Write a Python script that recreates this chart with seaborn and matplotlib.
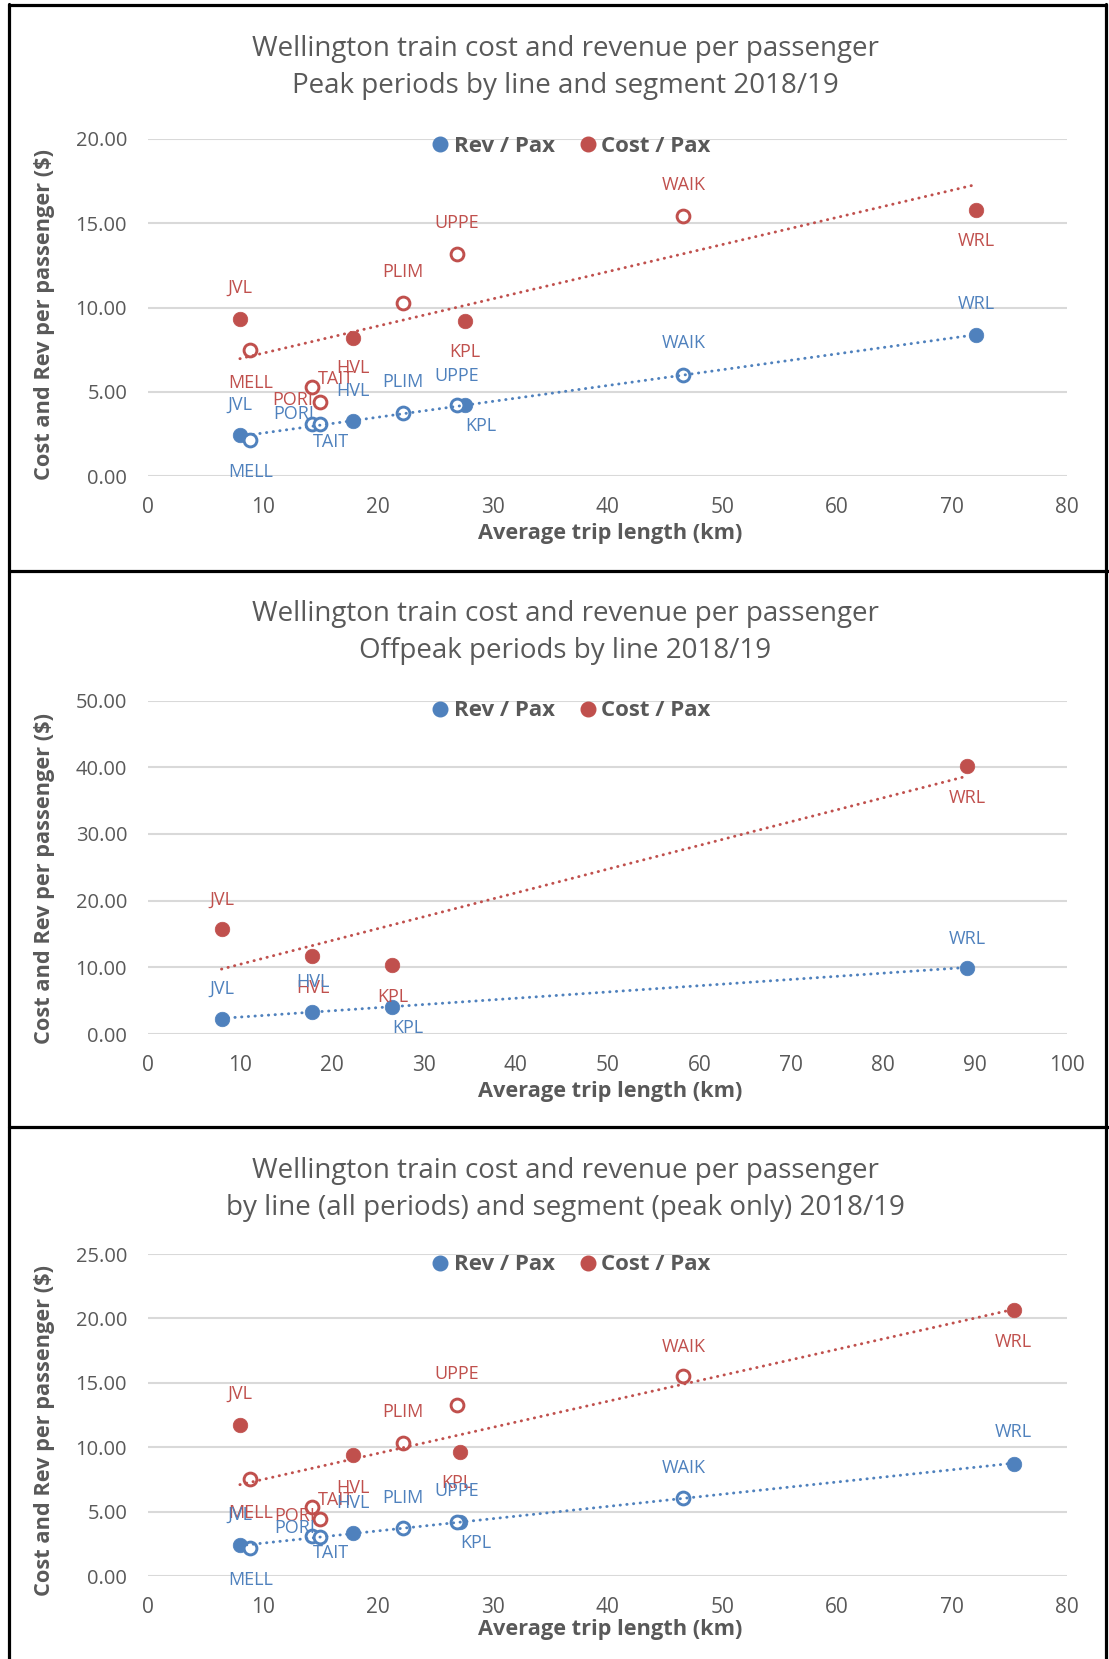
import numpy as np
import pandas as pd
import matplotlib
matplotlib.use("Agg")
import matplotlib.pyplot as plt
from matplotlib.lines import Line2D
from matplotlib.ticker import FormatStrFormatter, MultipleLocator
import seaborn as sns

# ---------------- data ----------------
# Panel 1: peak periods by line and segment
p1_line_names = ["JVL", "HVL", "KPL", "WRL"]
p1_line_km = [8.0, 17.85, 27.6, 72.1]
p1_line_rev = [2.43, 3.28, 4.19, 8.34]
p1_line_cost = [9.31, 8.18, 9.17, 15.79]
p1_seg_names = ["MELL", "PORI", "TAIT", "PLIM", "UPPE", "WAIK"]
p1_seg_km = [8.9, 14.3, 15.0, 22.2, 26.9, 46.6]
p1_seg_rev = [2.15, 3.06, 3.06, 3.73, 4.23, 6.00]
p1_seg_cost = [7.49, 5.31, 4.40, 10.29, 13.20, 15.43]

# Panel 2: offpeak periods by line
p2_line_names = ["JVL", "HVL", "KPL", "WRL"]
p2_line_km = [8.0, 17.8, 26.5, 89.1]
p2_line_rev = [2.31, 3.30, 4.11, 9.97]
p2_line_cost = [15.67, 11.71, 10.36, 40.20]

# Panel 3: by line (all periods) and segment (peak only)
p3_line_names = ["JVL", "HVL", "KPL", "WRL"]
p3_line_km = [8.0, 17.87, 27.15, 75.35]
p3_line_rev = [2.39, 3.32, 4.18, 8.70]
p3_line_cost = [11.76, 9.37, 9.60, 20.66]
p3_seg_names = ["MELL", "PORI", "TAIT", "PLIM", "UPPE", "WAIK"]
p3_seg_km = [8.9, 14.3, 15.0, 22.2, 26.9, 46.6]
p3_seg_rev = [2.15, 3.14, 3.01, 3.74, 4.23, 6.05]
p3_seg_cost = [7.53, 5.32, 4.41, 10.33, 13.26, 15.52]

titles = [
    ("Wellington train cost and revenue per passenger", "Peak periods by line and segment 2018/19"),
    ("Wellington train cost and revenue per passenger", "Offpeak periods by line 2018/19"),
    ("Wellington train cost and revenue per passenger", "by line (all periods) and segment (peak only) 2018/19"),
]
x_label = "Average trip length (km)"
y_label = "Cost and Rev per passenger ($)"
legend_labels = ["Rev / Pax", "Cost / Pax"]

# ---------------- label offsets (pixels; style only) ----------------
off1_red = {"JVL": (0, 31), "MELL": (0, -33), "HVL": (0, -30), "TAIT": (16, 23), "PORI": (-20, -13),
            "PLIM": (0, 31), "UPPE": (0, 31), "KPL": (0, -31), "WAIK": (0, 31), "WRL": (0, -31)}
off1_blue = {"JVL": (0, 30), "MELL": (0, -32), "PORI": (-19, 10), "TAIT": (11, -18), "HVL": (0, 30),
             "PLIM": (0, 31), "UPPE": (0, 29), "KPL": (16, -21), "WAIK": (0, 32), "WRL": (0, 31)}
off2_red = {"JVL": (0, 30), "HVL": (1, -32), "KPL": (1, -32), "WRL": (0, -32)}
off2_blue = {"JVL": (0, 30), "HVL": (1, 30), "KPL": (16, -21), "WRL": (0, 29)}
off3_red = {"JVL": (0, 31), "MELL": (0, -34), "HVL": (0, -33), "TAIT": (16, 19), "PORI": (-18, -9),
            "PLIM": (0, 31), "UPPE": (0, 31), "KPL": (-3, -31), "WAIK": (0, 29), "WRL": (0, -32)}
off3_blue = {"JVL": (0, 30), "MELL": (0, -32), "PORI": (-18, 8), "TAIT": (11, -16), "HVL": (0, 30),
             "PLIM": (0, 30), "UPPE": (0, 31), "KPL": (16, -21), "WAIK": (0, 30), "WRL": (0, 32)}

# ---------------- style ----------------
sns.set_theme(style="white")
FONT = ["Open Sans", "DejaVu Sans"]
plt.rcParams["font.family"] = FONT
BLUE = "#4F81BD"
RED = "#C0504D"
GREY = "#595959"
GRID = "#D9D9D9"

W, H = 1109, 1659
DPI = 100
fig = plt.figure(figsize=(W / DPI, H / DPI), dpi=DPI)
fig.patch.set_facecolor("white")
PX = 72.0 / DPI  # points per pixel


def fx(px):
    return px / W


def fy(py):
    return 1 - py / H


panels = [
    dict(top=139, bottom=476, xmax=80, ymax=20, ystep=5, xstep=10,
         title_y=(49, 86), xlab_y=533, ylab_y=315,
         lines=(p1_line_names, p1_line_km, p1_line_rev, p1_line_cost),
         segs=(p1_seg_names, p1_seg_km, p1_seg_rev, p1_seg_cost),
         off_red=off1_red, off_blue=off1_blue, legend_y=146),
    dict(top=700.5, bottom=1034, xmax=100, ymax=50, ystep=10, xstep=10,
         title_y=(614, 651), xlab_y=1091, ylab_y=878,
         lines=(p2_line_names, p2_line_km, p2_line_rev, p2_line_cost),
         segs=None,
         off_red=off2_red, off_blue=off2_blue, legend_y=711),
    dict(top=1254, bottom=1576, xmax=80, ymax=25, ystep=5, xstep=10,
         title_y=(1171, 1208), xlab_y=1630, ylab_y=1430,
         lines=(p3_line_names, p3_line_km, p3_line_rev, p3_line_cost),
         segs=(p3_seg_names, p3_seg_km, p3_seg_rev, p3_seg_cost),
         off_red=off3_red, off_blue=off3_blue, legend_y=1265),
]

LEFT, RIGHT = 148, 1067

for i, p in enumerate(panels):
    ax = fig.add_axes([fx(LEFT), fy(p["bottom"]), fx(RIGHT - LEFT), (p["bottom"] - p["top"]) / H])
    ax.set_facecolor("white")

    ln, lkm, lrev, lcost = p["lines"]
    df_line = pd.DataFrame({"name": ln, "km": lkm, "rev": lrev, "cost": lcost})
    if p["segs"] is not None:
        sn, skm, srev, scost = p["segs"]
        df_seg = pd.DataFrame({"name": sn, "km": skm, "rev": srev, "cost": scost})
        df_all = pd.concat([df_line, df_seg], ignore_index=True)
    else:
        df_seg = None
        df_all = df_line

    # trendlines (linear fits over all points of the series)
    for col, c in (("rev", BLUE), ("cost", RED)):
        sns.regplot(data=df_all, x="km", y=col, scatter=False, ci=None, truncate=True, ax=ax,
                    color=c, line_kws=dict(linestyle=(0, (0.1, 2.2)), linewidth=2.1,
                                           dash_capstyle="round", zorder=5))

    # markers
    for col, c in (("rev", BLUE), ("cost", RED)):
        sns.scatterplot(data=df_line, x="km", y=col, ax=ax, color=c, s=110, edgecolor=c,
                        linewidth=0.5, zorder=4, legend=False)
        if df_seg is not None:
            sns.scatterplot(data=df_seg, x="km", y=col, ax=ax, facecolor="white", edgecolor=c,
                            s=85, linewidth=2.1, zorder=4, legend=False)

    # data labels
    for col, c, offs in (("cost", RED, p["off_red"]), ("rev", BLUE, p["off_blue"])):
        for _, r in df_all.iterrows():
            dx, dy = offs[r["name"]]
            ax.annotate(r["name"], (r["km"], r[col]), xytext=(dx * PX, dy * PX),
                        textcoords="offset points", ha="center", va="center",
                        fontsize=13, color=c, zorder=6, annotation_clip=False)

    ax.set_xlim(0, p["xmax"])
    ax.set_ylim(0, p["ymax"])
    ax.xaxis.set_major_locator(MultipleLocator(p["xstep"]))
    ax.yaxis.set_major_locator(MultipleLocator(p["ystep"]))
    ax.yaxis.set_major_formatter(FormatStrFormatter("%.2f"))
    ax.grid(axis="y", color=GRID, linewidth=1.5, zorder=0)
    ax.grid(axis="x", visible=False)
    ax.set_axisbelow(True)
    for s in ax.spines.values():
        s.set_visible(False)
    ax.tick_params(axis="both", length=0, colors=GREY)
    ax.tick_params(axis="y", labelsize=14.5, pad=15)
    ax.tick_params(axis="x", labelsize=15, pad=15)
    ax.set_xlabel("")
    ax.set_ylabel("")

    # legend
    handles = [Line2D([], [], marker="o", linestyle="none", markersize=10.5, color=BLUE),
               Line2D([], [], marker="o", linestyle="none", markersize=10.5, color=RED)]
    leg = ax.legend(handles, legend_labels, loc="center", ncol=2, frameon=False,
                    bbox_to_anchor=((570 - LEFT) / (RIGHT - LEFT),
                                    (p["bottom"] - p["legend_y"]) / (p["bottom"] - p["top"])),
                    prop=dict(family=FONT, weight="bold", size=16),
                    handletextpad=0.1, columnspacing=1.0, handlelength=1.0)
    for t in leg.get_texts():
        t.set_color(GREY)

    # titles and axis labels
    t1, t2 = titles[i]
    fig.text(fx(565), fy(p["title_y"][0]), t1, ha="center", va="center", fontsize=20, color=GREY)
    fig.text(fx(565), fy(p["title_y"][1]), t2, ha="center", va="center", fontsize=20, color=GREY)
    fig.text(fx(610), fy(p["xlab_y"]), x_label, ha="center", va="center", fontsize=15.7,
             fontweight="bold", color=GREY)
    fig.text(fx(45), fy(p["ylab_y"]), y_label, ha="center", va="center", fontsize=15.7,
             fontweight="bold", color=GREY, rotation=90)

# borders
border_kw = dict(color="black", linewidth=2.3, transform=fig.transFigure)
fig.add_artist(Line2D([fx(9), fx(9)], [0, fy(4)], **border_kw))
fig.add_artist(Line2D([fx(1106), fx(1106)], [0, fy(4)], **border_kw))
fig.add_artist(Line2D([fx(9), fx(1106)], [fy(5), fy(5)], **border_kw))
fig.add_artist(Line2D([fx(9), fx(1109)], [fy(571), fy(571)], **border_kw))
fig.add_artist(Line2D([fx(9), fx(1109)], [fy(1127), fy(1127)], **border_kw))

fig.savefig("out.png", dpi=DPI, facecolor="white")
